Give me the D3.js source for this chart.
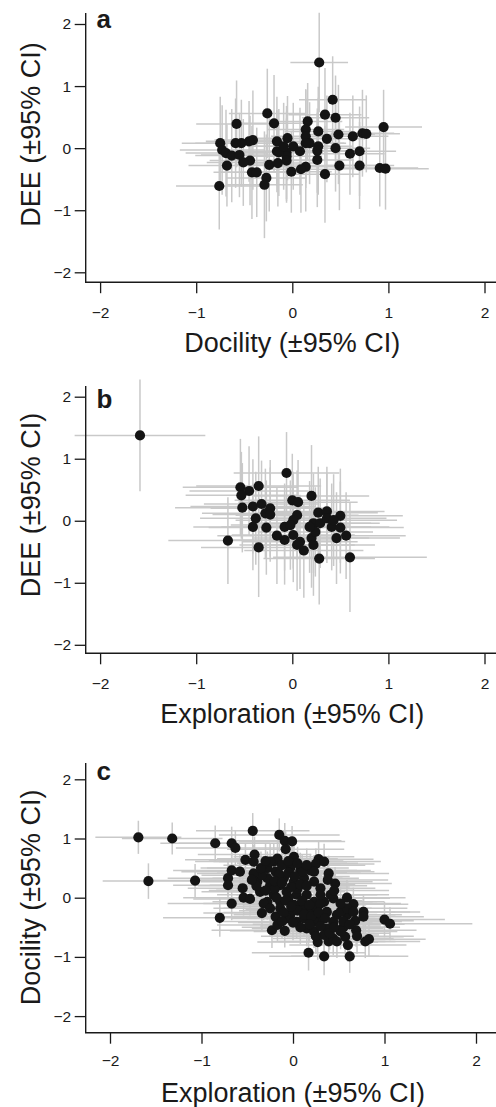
<!DOCTYPE html>
<html>
<head>
<meta charset="utf-8">
<script src="https://cdn.jsdelivr.net/npm/d3@7"></script>
<style>
  html, body { margin: 0; padding: 0; background: #fff; }
  svg { display: block; font-family: "Liberation Sans", Arial, Helvetica, sans-serif; }
</style>
</head>
<body>
<script>
// ---- Data: [x, y, xHalfCI, yHalfCI] ----
const pointsA = [
  [0.28,1.38,0.30,0.80],[0.42,0.78,0.35,0.70],[-0.26,0.56,0.40,0.72],[0.34,0.54,0.38,0.75],
  [0.45,0.49,0.35,0.68],[-0.58,0.39,0.42,0.70],[-0.19,0.40,0.38,0.78],[0.16,0.43,0.36,0.62],
  [0.95,0.34,0.40,0.60],[0.27,0.27,0.35,0.72],[0.14,0.30,0.40,0.65],[0.48,0.22,0.38,0.80],
  [0.63,0.19,0.37,0.66],[0.73,0.24,0.33,0.70],[0.77,0.23,0.35,0.62],[0.36,0.15,0.40,0.70],
  [0.14,0.19,0.36,0.75],[-0.05,0.16,0.42,0.68],[-0.16,0.11,0.38,0.72],[-0.41,0.13,0.40,0.80],
  [-0.45,0.11,0.45,0.65],[-0.53,0.08,0.37,0.70],[-0.59,0.08,0.42,0.72],[-0.75,0.08,0.40,0.75],
  [0.18,0.08,0.38,0.66],[0.01,0.03,0.40,0.70],[0.27,0.03,0.35,0.78],[0.45,0.00,0.36,0.70],
  [-0.73,-0.03,0.44,0.72],[-0.16,-0.05,0.40,0.66],[-0.06,-0.07,0.38,0.75],[0.08,-0.05,0.36,0.70],
  [0.26,-0.04,0.40,0.68],[0.70,-0.05,0.38,0.72],[0.60,-0.09,0.36,0.66],[-0.69,-0.08,0.42,0.70],
  [-0.63,-0.12,0.38,0.75],[-0.55,-0.11,0.40,0.68],[-0.06,-0.13,0.37,0.72],[-0.14,-0.07,0.40,0.70],
  [0.26,-0.19,0.38,0.76],[-0.44,-0.20,0.42,0.72],[-0.51,-0.23,0.38,0.70],[-0.68,-0.28,0.40,0.66],
  [-0.24,-0.27,0.36,0.75],[-0.15,-0.24,0.40,0.70],[-0.06,-0.20,0.37,0.68],[0.14,-0.30,0.40,0.72],
  [0.09,-0.34,0.36,0.70],[-0.01,-0.38,0.42,0.66],[0.49,-0.28,0.38,0.72],[0.70,-0.28,0.36,0.70],
  [0.91,-0.32,0.40,0.62],[0.97,-0.33,0.45,0.66],[-0.42,-0.39,0.40,0.75],[-0.37,-0.39,0.38,0.72],
  [0.34,-0.42,0.36,0.78],[-0.27,-0.48,0.42,0.70],[-0.29,-0.59,0.40,0.86],[-0.76,-0.61,0.45,0.70],
  [-0.09,0.03,0.38,0.70],[0.14,0.08,0.40,0.72]
];
const pointsB = [
  [-1.585,1.376,0.68,0.90],[-0.06,0.77,0.55,0.66],[-0.54,0.54,0.60,0.78],[-0.45,0.48,0.62,0.72],
  [-0.35,0.56,0.65,0.80],[-0.53,0.41,0.58,0.70],[0.00,0.33,0.60,0.75],[0.06,0.30,0.62,0.68],
  [0.20,0.40,0.60,0.82],[-0.52,0.21,0.70,0.72],[-0.41,0.23,0.65,0.76],[-0.32,0.27,0.60,0.70],
  [-0.23,0.20,0.62,0.78],[-0.28,0.12,0.66,0.72],[-0.38,0.04,0.58,0.75],[-0.41,-0.10,0.62,0.70],
  [-0.27,-0.11,0.60,0.76],[0.05,0.09,0.64,0.72],[0.01,0.01,0.60,0.78],[-0.08,-0.10,0.66,0.70],
  [0.27,0.13,0.62,0.74],[0.36,0.15,0.60,0.72],[0.50,0.08,0.65,0.76],[0.22,-0.04,0.60,0.80],
  [0.29,-0.04,0.62,0.72],[0.41,-0.10,0.60,0.70],[0.50,-0.11,0.66,0.74],[-0.16,-0.24,0.62,0.78],
  [-0.08,-0.31,0.60,0.72],[0.01,-0.23,0.64,0.76],[0.05,-0.39,0.60,0.74],[0.12,-0.48,0.62,0.76],
  [0.20,-0.28,0.60,0.80],[0.22,-0.39,0.64,0.82],[0.24,-0.18,0.60,0.72],[0.46,-0.28,0.66,0.74],
  [0.56,-0.24,0.62,0.70],[-0.67,-0.32,0.62,0.70],[-0.35,-0.43,0.60,0.80],[0.28,-0.61,0.58,0.74],
  [0.60,-0.59,0.80,0.88],[-0.02,-0.07,0.62,0.72],[0.08,-0.34,0.60,0.76],[0.18,-0.10,0.64,0.74],
  [-0.23,0.10,0.60,0.76],[0.36,0.04,0.62,0.72],[0.43,0.01,0.66,0.74]
];
const pointsC = [
  [-1.69,1.02,0.47,0.28],[-1.32,1.00,0.55,0.27],[-1.58,0.28,0.50,0.30],[-1.07,0.29,0.52,0.28],
  [-0.85,0.92,0.60,0.30],[-0.44,1.13,0.62,0.30],[-0.67,0.92,0.58,0.28],[-0.63,0.84,0.65,0.30],
  [-0.80,-0.34,0.62,0.32],[-0.67,-0.10,0.70,0.28],[-0.71,0.33,0.66,0.30],[-0.71,0.21,0.60,0.28],
  [-0.67,0.46,0.64,0.30],[-0.15,1.06,0.66,0.28],[-0.09,0.96,0.62,0.30],[-0.01,0.95,0.58,0.26],
  [-0.08,0.82,0.64,0.30],[0.01,0.69,0.66,0.28],[0.28,0.65,0.60,0.30],[0.25,0.57,0.64,0.26],
  [0.39,0.41,0.66,0.30],[0.46,0.24,0.62,0.28],[-0.42,0.73,0.62,0.30],[-0.52,0.64,0.66,0.28],
  [-0.58,0.44,0.64,0.30],[-0.55,0.16,0.60,0.28],[-0.54,0.00,0.66,0.30],[-0.47,-0.02,0.62,0.28],
  [-0.34,-0.26,0.64,0.30],[-0.19,-0.32,0.62,0.28],[-0.23,-0.55,0.66,0.30],[-0.09,-0.56,0.60,0.28],
  [0.17,-0.93,0.62,0.30],[0.34,-0.99,0.60,0.32],[0.62,-0.99,0.64,0.28],[0.27,-0.75,0.66,0.30],
  [0.39,-0.74,0.62,0.28],[0.57,-0.66,0.64,0.30],[0.79,-0.74,0.60,0.28],[0.83,-0.70,0.62,0.30],
  [0.69,-0.55,0.66,0.28],[0.68,-0.39,0.64,0.30],[0.77,-0.24,0.62,0.28],[0.77,-0.32,0.66,0.30],
  [0.66,-0.11,0.60,0.28],[0.59,0.00,0.64,0.30],[1.00,-0.37,0.66,0.30],[1.06,-0.44,0.90,0.28],
  [0.55,-0.50,0.62,0.30],[0.48,-0.29,0.64,0.28],[0.59,-0.29,0.60,0.30],[0.34,-0.07,0.66,0.28],
  [0.44,-0.01,0.62,0.30],[0.23,0.27,0.64,0.28],[0.12,0.33,0.60,0.30],[0.19,0.46,0.66,0.28],
  [0.08,0.46,0.62,0.30],[-0.03,0.50,0.64,0.28],[-0.21,0.61,0.60,0.30],[-0.28,0.50,0.66,0.28],
  [-0.39,0.27,0.62,0.30],[-0.36,0.10,0.64,0.28],[-0.28,-0.07,0.60,0.30],[-0.14,-0.07,0.66,0.28],
  [-0.03,-0.29,0.62,0.30],[0.04,-0.41,0.64,0.28],[0.15,-0.52,0.60,0.30],[0.23,-0.57,0.66,0.28],
  [0.37,-0.52,0.62,0.30],[0.44,-0.41,0.64,0.28],[0.30,-0.35,0.60,0.30],[0.19,-0.24,0.66,0.28],
  [0.08,-0.12,0.62,0.30],[-0.07,0.10,0.64,0.28],[-0.14,0.21,0.60,0.30],[-0.25,0.21,0.66,0.28],
  [-0.21,0.05,0.62,0.30],[-0.10,0.33,0.64,0.28],[0.01,0.27,0.60,0.30],[0.04,0.05,0.66,0.28],
  [0.15,0.05,0.62,0.30],[0.23,-0.07,0.64,0.28],[0.26,-0.18,0.60,0.30],[0.37,-0.24,0.66,0.28],
  [-0.14,-0.18,0.62,0.30],[0.01,-0.12,0.64,0.28],[-0.07,-0.35,0.60,0.30],[-0.17,-0.46,0.66,0.28],
  [0.12,-0.35,0.62,0.30],[0.23,-0.41,0.64,0.28],[0.34,-0.63,0.60,0.30],[0.44,-0.69,0.66,0.28],
  [0.52,-0.57,0.62,0.30],[0.48,-0.74,0.64,0.28],[0.52,-0.24,0.60,0.30],[0.59,-0.18,0.66,0.28],
  [0.66,-0.24,0.62,0.30],[0.41,0.05,0.64,0.28],[0.30,0.16,0.60,0.30],[0.23,0.44,0.66,0.28],
  [0.34,0.61,0.62,0.30],[0.10,0.44,0.64,0.28],[-0.01,0.58,0.60,0.30],[-0.17,0.66,0.66,0.28],
  [-0.25,0.61,0.62,0.30],[-0.19,0.44,0.64,0.28],[-0.28,0.33,0.60,0.30],[-0.34,0.38,0.66,0.28],
  [-0.43,0.41,0.62,0.30],[-0.43,0.61,0.64,0.28],[-0.05,0.00,0.66,0.28],[0.10,-0.20,0.62,0.30],
  [-0.20,0.15,0.64,0.28],[0.05,0.15,0.60,0.30],[-0.10,-0.25,0.66,0.28],[0.30,-0.10,0.62,0.30],
  [-0.12,0.55,0.64,0.28],[-0.05,0.62,0.60,0.30],[0.05,0.58,0.66,0.28],[-0.15,0.40,0.62,0.30],
  [-0.05,0.42,0.64,0.28],[0.02,0.36,0.60,0.30],[-0.20,0.28,0.66,0.28],[-0.12,0.25,0.62,0.30],
  [-0.02,0.18,0.64,0.28],[0.08,0.22,0.60,0.30],[0.15,0.20,0.66,0.28],[-0.30,0.12,0.62,0.30],
  [-0.18,0.00,0.64,0.28],[-0.08,-0.05,0.60,0.30],[0.10,-0.05,0.66,0.28],[0.18,-0.12,0.62,0.30],
  [0.05,-0.22,0.64,0.28],[-0.02,-0.15,0.60,0.30],[0.12,-0.28,0.66,0.28],[0.20,-0.32,0.62,0.30],
  [0.28,-0.25,0.64,0.28],[0.35,-0.35,0.60,0.30],[0.30,-0.48,0.66,0.28],[0.18,-0.45,0.62,0.30],
  [0.08,-0.50,0.64,0.28],[0.25,-0.65,0.60,0.30],[0.40,-0.60,0.66,0.28],[0.45,-0.50,0.62,0.30],
  [0.55,-0.40,0.64,0.28],[0.62,-0.45,0.60,0.30],[-0.35,0.50,0.66,0.28],[-0.30,0.62,0.62,0.30],
  [-0.40,0.20,0.64,0.28],[-0.45,0.30,0.60,0.30],[-0.32,-0.10,0.66,0.28],[-0.25,-0.18,0.62,0.30],
  [-0.12,-0.40,0.64,0.28],[0.00,-0.42,0.60,0.30],[0.38,0.30,0.66,0.28],[0.30,0.05,0.62,0.30],
  [0.15,0.55,0.64,0.28],[0.45,0.12,0.60,0.30],[0.52,-0.10,0.66,0.28],[0.70,-0.65,0.62,0.30],
  [0.60,-0.80,0.64,0.28]
];
const tickValues = [-2, -1, 0, 1, 2];
const panelLetters = ["a", "b", "c"];
const xTitles = ["Docility (±95% CI)", "Exploration (±95% CI)", "Exploration (±95% CI)"];
const yTitles = ["DEE (±95% CI)", "DEE (±95% CI)", "Docility (±95% CI)"];

// ---- Layout ----
const W = 496, H = 1107;
const layout = [
  { xr: [100.1, 484.5], yr: [272.3, 24.0], axisX: 85.7, axisY: 282.2, yTop: 13, tickLabY: 35.6, titleY: 351.5, yTitleC: 134.5, letterY: 28.3 },
  { xr: [100.1, 484.5], yr: [644.8, 396.7], axisX: 85.7, axisY: 653.3, yTop: 386, tickLabY: 35.6, titleY: 722.8, yTitleC: 505, letterY: 408.3 },
  { xr: [110.0, 476.0], yr: [1016.1, 779.3], axisX: 85.7, axisY: 1032.7, yTop: 763, tickLabY: 33.5, titleY: 1102, yTitleC: 897.4, letterY: 780 }
];
const allPoints = [pointsA, pointsB, pointsC];

const svg = d3.select("body").append("svg").attr("width", W).attr("height", H);
const grey = "#c9c9c9";
const ink = "#1a1a1a";
const fmt = d3.format("d");

allPoints.forEach((pts, i) => {
  const L = layout[i];
  const x = d3.scaleLinear().domain([-2, 2]).range(L.xr);
  const y = d3.scaleLinear().domain([-2, 2]).range(L.yr);
  const g = svg.append("g");

  // error bars
  const eb = g.append("g").attr("stroke", grey).attr("stroke-width", 1.5);
  eb.selectAll("line.h").data(pts).join("line").attr("class", "h")
    .attr("x1", d => x(d[0] - d[2])).attr("x2", d => x(d[0] + d[2]))
    .attr("y1", d => y(d[1])).attr("y2", d => y(d[1]));
  eb.selectAll("line.v").data(pts).join("line").attr("class", "v")
    .attr("x1", d => x(d[0])).attr("x2", d => x(d[0]))
    .attr("y1", d => y(d[1] - d[3])).attr("y2", d => y(d[1] + d[3]));

  // points
  g.append("g").selectAll("circle").data(pts).join("circle")
    .attr("cx", d => x(d[0])).attr("cy", d => y(d[1])).attr("r", 5.1)
    .attr("fill", "#141414");

  // axes
  const yAxis = g.append("g").attr("transform", `translate(${L.axisX},0)`)
    .call(d3.axisLeft(y).tickValues(tickValues).tickFormat(fmt).tickSize(11).tickPadding(3.5));
  const xAxis = g.append("g").attr("transform", `translate(0,${L.axisY})`)
    .call(d3.axisBottom(x).tickValues(tickValues).tickFormat(fmt).tickSize(11));
  [yAxis, xAxis].forEach(a => {
    a.select(".domain").remove();
    a.selectAll("line").attr("stroke", ink).attr("stroke-width", 1.3);
    a.selectAll("text").attr("fill", ink).style("font-size", "15.5px")
      .style("font-family", '"Liberation Sans", Arial, Helvetica, sans-serif');
  });
  xAxis.selectAll("text").attr("dy", null).attr("y", L.tickLabY);

  // axis lines (L shape)
  g.append("path")
    .attr("d", `M${L.axisX},${L.yTop}V${L.axisY}H${W}`)
    .attr("fill", "none").attr("stroke", ink).attr("stroke-width", 1.4);

  // titles
  g.append("text").attr("x", (x(0))).attr("y", L.titleY)
    .attr("text-anchor", "middle").attr("fill", ink)
    .style("font-size", "27px").text(xTitles[i]);
  g.append("text")
    .attr("transform", `translate(40,${L.yTitleC}) rotate(-90)`)
    .attr("text-anchor", "middle").attr("fill", ink)
    .style("font-size", "27px").text(yTitles[i]);
  g.append("text").attr("x", 96.5).attr("y", L.letterY)
    .attr("fill", ink).style("font-size", "26px").style("font-weight", "bold")
    .text(panelLetters[i]);
});
</script>
</body>
</html>
